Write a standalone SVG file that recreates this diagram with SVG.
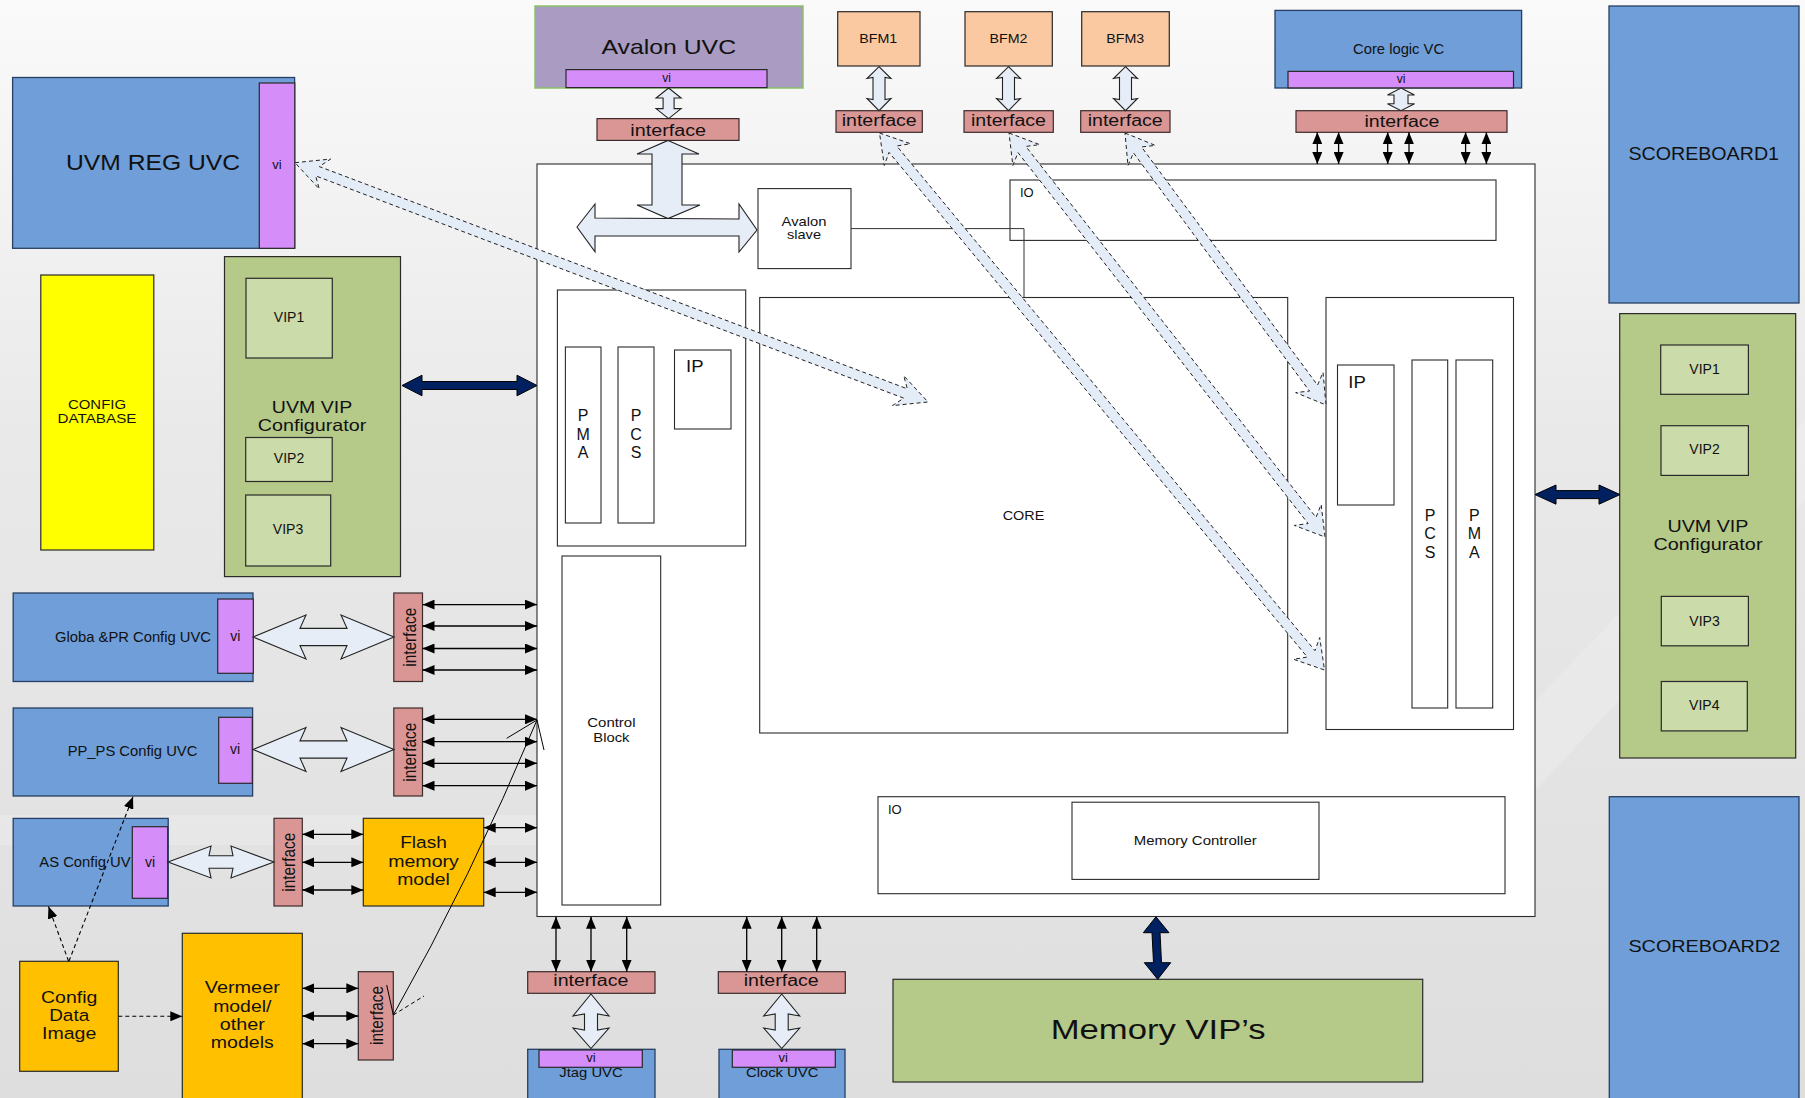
<svg xmlns="http://www.w3.org/2000/svg" width="1805" height="1098" viewBox="0 0 1805 1098">
<defs>
<linearGradient id="bg" x1="0" y1="0" x2="0" y2="1">
<stop offset="0" stop-color="#FAFAFA"/>
<stop offset="0.4" stop-color="#E9E9E9"/>
<stop offset="1" stop-color="#DEDEDE"/>
</linearGradient>
<marker id="ah" viewBox="0 0 12 10" refX="12" refY="5" markerWidth="12" markerHeight="10" markerUnits="userSpaceOnUse" orient="auto-start-reverse"><path d="M0,0 L12,5 L0,10 z" fill="#000"/></marker>
</defs>
<style>
text{font-family:"Liberation Sans",Arial,sans-serif;fill:#111;}
.m{text-anchor:middle}
.blue{fill:#6F9ED8;stroke:#263F63;stroke-width:1.3}
.vi{fill:#D58EF9;stroke:#2a2a2a;stroke-width:1.2}
.if{fill:#DA9694;stroke:#3b2b2b;stroke-width:1.2}
.grn{fill:#B5C989;stroke:#2a2a2a;stroke-width:1.2}
.vip{fill:#CBDBA9;stroke:#2a2a2a;stroke-width:1.2}
.org{fill:#FFC000;stroke:#2a2a2a;stroke-width:1.2}
.bfm{fill:#FAC9A2;stroke:#2a2a2a;stroke-width:1.2}
.wht{fill:#fff;stroke:#2a2a2a;stroke-width:1.1}
.hol{fill:#E6EDF7;stroke:#222;stroke-width:1.1}
.dsh{fill:#E4ECF7;stroke:#222;stroke-width:1;stroke-dasharray:4 3}
.nav{fill:#002060;stroke:#000;stroke-width:1}
.ln{stroke:#000;stroke-width:1.3;fill:none}
.dl{stroke:#000;stroke-width:1.1;fill:none;stroke-dasharray:4 3}
.let{font-size:16.5;text-anchor:middle}
</style>
<rect width="1805" height="1098" fill="url(#bg)"/>
<polygon points="1536,700 1805,420 1805,500 1536,790" fill="#fff" opacity="0.18"/>
<rect x="0" y="815" width="537" height="30" fill="#fff" opacity="0.18"/>

<g id="dut">
<rect class="wht" x="537" y="164" width="998" height="752.5" stroke="#222" stroke-width="1.3"/>
</g>
<g id="io-top"><rect class="wht" x="1010" y="180" width="486" height="60.4"/><text x="1020" y="196.7" font-size="13">IO</text></g>
<g id="core"><rect class="wht" x="759.7" y="297.5" width="528" height="435.5"/><text class="m" x="1023.5" y="519.6" font-size="13.5" textLength="41.6" lengthAdjust="spacingAndGlyphs">CORE</text></g>
<g id="right-block"><rect class="wht" x="1326" y="297.5" width="187.5" height="432"/></g>
<g id="right-ip"><rect class="wht" x="1337.5" y="365" width="56.5" height="140"/><text x="1348.3" y="387.7" font-size="16.5" textLength="17.5" lengthAdjust="spacingAndGlyphs">IP</text></g>
<g id="right-pcs"><rect class="wht" x="1412" y="360" width="35.7" height="348"/><text class="let" x="1430" y="520.5">P</text><text class="let" x="1430" y="539">C</text><text class="let" x="1430" y="557.5">S</text></g>
<g id="right-pma"><rect class="wht" x="1456" y="360" width="36.7" height="348"/><text class="let" x="1474.3" y="520.5">P</text><text class="let" x="1474.3" y="539">M</text><text class="let" x="1474.3" y="557.5">A</text></g>
<g id="left-block"><rect class="wht" x="557.4" y="290" width="188.3" height="256"/></g>
<g id="left-pma"><rect class="wht" x="565.4" y="347" width="35.6" height="176"/><text class="let" x="583.2" y="420.7">P</text><text class="let" x="583.2" y="440">M</text><text class="let" x="583.2" y="457.9">A</text></g>
<g id="left-pcs"><rect class="wht" x="618" y="347" width="36" height="176"/><text class="let" x="636" y="420.7">P</text><text class="let" x="636" y="440">C</text><text class="let" x="636" y="457.9">S</text></g>
<g id="left-ip"><rect class="wht" x="674.5" y="350" width="56.5" height="79"/><text x="686" y="372" font-size="16.5" textLength="17.5" lengthAdjust="spacingAndGlyphs">IP</text></g>
<g id="avalon-slave"><rect class="wht" x="758" y="188.6" width="93" height="80"/><text class="m" x="804" y="225.7" font-size="13" textLength="44.8" lengthAdjust="spacingAndGlyphs">Avalon</text><text class="m" x="804" y="239.3" font-size="13" textLength="34" lengthAdjust="spacingAndGlyphs">slave</text></g>
<g id="control-block"><rect class="wht" x="562" y="556" width="98.7" height="349"/><text class="m" x="611.4" y="727.4" font-size="13" textLength="48.2" lengthAdjust="spacingAndGlyphs">Control</text><text class="m" x="611.4" y="741.8" font-size="13" textLength="36.1" lengthAdjust="spacingAndGlyphs">Block</text></g>
<g id="io-bottom"><rect class="wht" x="878" y="796.7" width="627" height="97"/><text x="888" y="813.7" font-size="13">IO</text></g>
<g id="memory-controller"><rect class="wht" x="1072" y="802.2" width="247" height="77.2"/><text class="m" x="1195.2" y="844.8" font-size="13.5" textLength="123" lengthAdjust="spacingAndGlyphs">Memory Controller</text></g>

<g id="avalon-uvc"><rect x="535" y="6" width="268" height="82" fill="#A99BC1" stroke="#8CC266" stroke-width="1.5"/><text class="m" x="668.8" y="53.6" font-size="21" textLength="134.5" lengthAdjust="spacingAndGlyphs">Avalon UVC</text><rect class="vi" x="566" y="69.6" width="201" height="18"/><text class="m" x="666.5" y="82" font-size="12">vi</text></g>
<g id="avalon-if"><rect class="if" x="597" y="118.6" width="142" height="21.8"/><text class="m" x="668.2" y="135.5" font-size="16" textLength="75.7" lengthAdjust="spacingAndGlyphs">interface</text></g>
<g id="bfm1"><rect class="bfm" x="837.7" y="11.7" width="82.3" height="54.3"/><text class="m" x="878.3" y="43.3" font-size="12.6" textLength="38" lengthAdjust="spacingAndGlyphs">BFM1</text></g>
<g id="bfm2"><rect class="bfm" x="965" y="11.7" width="87.3" height="54.3"/><text class="m" x="1008.5" y="43.3" font-size="12.6" textLength="38" lengthAdjust="spacingAndGlyphs">BFM2</text></g>
<g id="bfm3"><rect class="bfm" x="1081.7" y="11.7" width="87.6" height="54.3"/><text class="m" x="1125.3" y="43.3" font-size="12.6" textLength="38" lengthAdjust="spacingAndGlyphs">BFM3</text></g>
<g id="bfm1-if"><rect class="if" x="836" y="110.7" width="86.3" height="21.6"/><text class="m" x="879.2" y="126" font-size="16" textLength="75" lengthAdjust="spacingAndGlyphs">interface</text></g>
<g id="bfm2-if"><rect class="if" x="964" y="110.7" width="89.3" height="21.6"/><text class="m" x="1008.5" y="126" font-size="16" textLength="75" lengthAdjust="spacingAndGlyphs">interface</text></g>
<g id="bfm3-if"><rect class="if" x="1080.7" y="110.7" width="89.3" height="21.6"/><text class="m" x="1125.2" y="126" font-size="16" textLength="75" lengthAdjust="spacingAndGlyphs">interface</text></g>
<g id="core-logic-vc"><rect class="blue" x="1275" y="10.4" width="246.6" height="77.6"/><text class="m" x="1398.6" y="53.6" font-size="14" textLength="91" lengthAdjust="spacingAndGlyphs">Core logic VC</text><rect class="vi" x="1288" y="71.4" width="225.5" height="16.5"/><text class="m" x="1401" y="83" font-size="12">vi</text></g>
<g id="core-logic-if"><rect class="if" x="1296" y="110.7" width="211" height="21.6"/><text class="m" x="1402" y="126.8" font-size="16" textLength="75" lengthAdjust="spacingAndGlyphs">interface</text></g>
<g id="scoreboard1"><rect class="blue" x="1609" y="6" width="190" height="297"/><text class="m" x="1703.7" y="159.6" font-size="17.5" textLength="150.6" lengthAdjust="spacingAndGlyphs">SCOREBOARD1</text></g>
<g id="vip-config-right"><rect class="grn" x="1619.7" y="313.6" width="176" height="444.4"/>
<rect class="vip" x="1660.7" y="345" width="87.7" height="49.3"/><text class="m" x="1704.5" y="374" font-size="14">VIP1</text>
<rect class="vip" x="1661" y="425.7" width="87.4" height="49.7"/><text class="m" x="1704.5" y="454.3" font-size="14">VIP2</text>
<text class="m" x="1708" y="532" font-size="16.5" textLength="81" lengthAdjust="spacingAndGlyphs">UVM VIP</text><text class="m" x="1708" y="550" font-size="16.5" textLength="109" lengthAdjust="spacingAndGlyphs">Configurator</text>
<rect class="vip" x="1661.3" y="596.4" width="87.1" height="49.4"/><text class="m" x="1704.5" y="625.5" font-size="14">VIP3</text>
<rect class="vip" x="1661.3" y="681.5" width="86" height="49.4"/><text class="m" x="1704.3" y="710.3" font-size="14">VIP4</text></g>
<g id="scoreboard2"><rect class="blue" x="1609.3" y="796.7" width="189.7" height="310"/><text class="m" x="1704.3" y="952.2" font-size="17" textLength="151.8" lengthAdjust="spacingAndGlyphs">SCOREBOARD2</text></g>
<g id="memory-vips"><rect class="grn" x="893" y="979.3" width="529.7" height="102.7"/><text class="m" x="1158.2" y="1039" font-size="27.5" textLength="215" lengthAdjust="spacingAndGlyphs">Memory VIP’s</text></g>

<g id="uvm-reg-uvc"><rect class="blue" x="12.6" y="77.5" width="282" height="170.8"/><text class="m" x="153" y="169.6" font-size="21.5" textLength="174" lengthAdjust="spacingAndGlyphs">UVM REG UVC</text><rect class="vi" x="259.3" y="83" width="35.5" height="165.3"/><text class="m" x="277" y="169" font-size="13">vi</text></g>
<g id="config-database"><rect x="40.8" y="275" width="113" height="275" fill="#FFFF00" stroke="#2a2a2a" stroke-width="1.2"/><text class="m" x="97" y="409.3" font-size="13" textLength="58" lengthAdjust="spacingAndGlyphs">CONFIG</text><text class="m" x="97" y="423.2" font-size="13" textLength="79" lengthAdjust="spacingAndGlyphs">DATABASE</text></g>
<g id="vip-config-left"><rect class="grn" x="224.5" y="256.6" width="176" height="320"/>
<rect class="vip" x="246" y="278.3" width="86.3" height="79.7"/><text class="m" x="289" y="322.3" font-size="14">VIP1</text>
<text class="m" x="312" y="412.5" font-size="16.5" textLength="80.4" lengthAdjust="spacingAndGlyphs">UVM VIP</text><text class="m" x="312" y="431" font-size="16.5" textLength="108.5" lengthAdjust="spacingAndGlyphs">Configurator</text>
<rect class="vip" x="245.7" y="437.5" width="86.5" height="44"/><text class="m" x="289" y="463" font-size="14">VIP2</text>
<rect class="vip" x="245.7" y="495" width="85" height="71"/><text class="m" x="288" y="534.3" font-size="14">VIP3</text></g>
<g id="globa-pr-config-uvc"><rect class="blue" x="13.2" y="593" width="239.8" height="88.5"/><text class="m" x="133" y="641.7" font-size="14" textLength="156" lengthAdjust="spacingAndGlyphs">Globa &amp;PR Config UVC</text><rect class="vi" x="217.7" y="599" width="35.6" height="74.3"/><text class="m" x="235.4" y="640.7" font-size="14">vi</text></g>
<g id="globa-if"><rect class="if" x="393.8" y="593" width="28.7" height="88.5"/><text class="m" transform="translate(416,637.2) rotate(-90)" font-size="19" textLength="59" lengthAdjust="spacingAndGlyphs">interface</text></g>
<g id="pp-ps-config-uvc"><rect class="blue" x="13.2" y="708" width="239.4" height="88"/><text class="m" x="132.5" y="755.7" font-size="14" textLength="129.7" lengthAdjust="spacingAndGlyphs">PP_PS Config UVC</text><rect class="vi" x="218.7" y="717.3" width="33.6" height="66"/><text class="m" x="235" y="754" font-size="14">vi</text></g>
<g id="pp-ps-if"><rect class="if" x="393.8" y="708" width="28.7" height="88"/><text class="m" transform="translate(416,752.2) rotate(-90)" font-size="19" textLength="59" lengthAdjust="spacingAndGlyphs">interface</text></g>
<g id="as-config-uvc"><rect class="blue" x="13.2" y="818.4" width="155" height="87.6"/><text x="39.3" y="866.7" font-size="14" textLength="91.3" lengthAdjust="spacingAndGlyphs">AS Config UV</text><rect class="vi" x="132.3" y="826.7" width="35.4" height="71.6"/><text class="m" x="150" y="866.7" font-size="14">vi</text></g>
<g id="as-if"><rect class="if" x="274" y="818.3" width="28.3" height="87.7"/><text class="m" transform="translate(295,862.2) rotate(-90)" font-size="19" textLength="59" lengthAdjust="spacingAndGlyphs">interface</text></g>
<g id="flash-memory-model"><rect class="org" x="363.3" y="818.3" width="120.4" height="87.7"/><text class="m" x="423.5" y="848.3" font-size="16.3" textLength="46.7" lengthAdjust="spacingAndGlyphs">Flash</text><text class="m" x="423.5" y="867.3" font-size="16.3" textLength="70.7" lengthAdjust="spacingAndGlyphs">memory</text><text class="m" x="423.5" y="885" font-size="16.3" textLength="52.7" lengthAdjust="spacingAndGlyphs">model</text></g>
<g id="config-data-image"><rect class="org" x="19.7" y="961.3" width="98.6" height="110"/><text class="m" x="69.2" y="1002.7" font-size="16.8" textLength="56.3" lengthAdjust="spacingAndGlyphs">Config</text><text class="m" x="69.2" y="1020.9" font-size="16.8" textLength="40" lengthAdjust="spacingAndGlyphs">Data</text><text class="m" x="69.2" y="1039" font-size="16.8" textLength="54.3" lengthAdjust="spacingAndGlyphs">Image</text></g>
<g id="vermeer-model"><rect class="org" x="182.3" y="933.3" width="120" height="175"/><text class="m" x="242.3" y="993.3" font-size="16.3" textLength="75" lengthAdjust="spacingAndGlyphs">Vermeer</text><text class="m" x="242.3" y="1011.7" font-size="16.3" textLength="58.3" lengthAdjust="spacingAndGlyphs">model/</text><text class="m" x="242.3" y="1030" font-size="16.3" textLength="45" lengthAdjust="spacingAndGlyphs">other</text><text class="m" x="242.3" y="1047.7" font-size="16.3" textLength="63" lengthAdjust="spacingAndGlyphs">models</text></g>
<g id="vermeer-if"><rect class="if" x="358.3" y="971.7" width="35" height="88.3"/><text class="m" transform="translate(383.3,1015.5) rotate(-90)" font-size="19" textLength="59" lengthAdjust="spacingAndGlyphs">interface</text></g>
<g id="jtag-if"><rect class="if" x="527.7" y="971.7" width="127.3" height="21.6"/><text class="m" x="590.8" y="986" font-size="16" textLength="75" lengthAdjust="spacingAndGlyphs">interface</text></g>
<g id="clock-if"><rect class="if" x="718.3" y="971.7" width="127" height="21.6"/><text class="m" x="781.2" y="986" font-size="16" textLength="75" lengthAdjust="spacingAndGlyphs">interface</text></g>
<g id="jtag-uvc"><rect class="blue" x="527.7" y="1049.3" width="127.3" height="60"/><rect class="vi" x="539" y="1050" width="103.3" height="17.3"/><text class="m" x="591" y="1061.7" font-size="13">vi</text><text class="m" x="591" y="1076.7" font-size="13" textLength="63.3" lengthAdjust="spacingAndGlyphs">Jtag UVC</text></g>
<g id="clock-uvc"><rect class="blue" x="719" y="1049.3" width="126" height="60"/><rect class="vi" x="732.3" y="1050" width="103" height="17.3"/><text class="m" x="783.3" y="1061.7" font-size="13">vi</text><text class="m" x="782.2" y="1076.7" font-size="13" textLength="72.3" lengthAdjust="spacingAndGlyphs">Clock UVC</text></g>

<g id="connectors">
<polyline points="851,228.6 1024,228.6 1024,297.5" fill="none" stroke="#333" stroke-width="1"/>
<polygon class="hol" points="668,140.4 699,154 682,154 682,205 700,205 668,218.6 637,205 652,205 652,154 637,154"/>
<polygon class="hol" points="577,227 595,204 595,218 739,219 739,204 757,230 739,252 739,236 595,236 595,251.8"/>
<polygon class="hol" points="668.6,88 681.1,98 674.1,98 674.1,108.6 681.1,108.6 668.6,118.6 656.1,108.6 663.1,108.6 663.1,98 656.1,98"/>
<polygon class="hol" points="1401,88 1414.5,95 1408,95 1408,103.7 1414.5,103.7 1401,110.7 1387.5,103.7 1394,103.7 1394,95 1387.5,95"/>
<polygon class="hol" points="879,66.7 891,78.5 885,77.5 885,99.5 891,98.5 879,110.7 867,98.5 873,99.5 873,77.5 867,78.5"/>
<polygon class="hol" points="1008.5,66.7 1020.5,78.5 1014.5,77.5 1014.5,99.5 1020.5,98.5 1008.5,110.7 996.5,98.5 1002.5,99.5 1002.5,77.5 996.5,78.5"/>
<polygon class="hol" points="1125.5,66.7 1137.5,78.5 1131.5,77.5 1131.5,99.5 1137.5,98.5 1125.5,110.7 1113.5,98.5 1119.5,99.5 1119.5,77.5 1113.5,78.5"/>
<polygon class="hol" points="253,637 306,615 300,628.4 347,628.4 341,615 394,637 341,659 347,645.6 300,645.6 306,659"/>
<polygon class="hol" points="253,749.5 306,727.5 300,740.9 347,740.9 341,727.5 394,749.5 341,771.5 347,758.1 300,758.1 306,771.5"/>
<polygon class="hol" points="168,862 211,846 209,855.7 233,855.7 231,846 274,862 231,878 233,868.3 209,868.3 211,878"/>
<polygon class="hol" points="591,994 609,1016 597.5,1014 597.5,1030 609,1028 591,1048.5 573,1028 584.5,1030 584.5,1014 573,1016"/>
<polygon class="hol" points="781.7,994 799.7,1016 788.2,1014 788.2,1030 799.7,1028 781.7,1048.5 763.7,1028 775.2,1030 775.2,1014 763.7,1016"/>
<polygon class="dsh" points="295,162.7 330.6,159.07 319.21,166.52 907.33,388.82 903.74,375.71 928,402 892.4,405.63 903.79,398.18 315.67,175.88 319.26,188.99"/>
<polygon class="dsh" points="879.5,133 910.46,143.71 896.75,145.98 1314.95,650.64 1319.72,637.59 1324.5,670 1293.54,659.29 1307.25,657.02 889.05,152.36 884.28,165.41"/>
<polygon class="dsh" points="1009,133 1039.64,144.59 1025.88,146.46 1316,517.38 1321.14,504.47 1325,537 1294.36,525.41 1308.12,523.54 1018,152.62 1012.86,165.53"/>
<polygon class="dsh" points="1125,133 1155.31,145.42 1141.5,146.92 1317.54,385.14 1323.03,372.38 1326,405 1295.69,392.58 1309.5,391.08 1133.46,152.86 1127.97,165.62"/>
<polygon class="nav" points="402,385.5 422,375.2 422,381.5 517,381.5 517,375.2 537,385.5 517,395.8 517,389.5 422,389.5 422,395.8"/>
<polygon class="nav" points="1535,494.6 1556,485 1556,490.6 1599,490.6 1599,485 1620,494.6 1599,504.2 1599,498.6 1556,498.6 1556,504.2"/>
<polygon class="nav" points="1156,916.8 1169,932.7 1160,932.7 1161.5,962.7 1170.7,962.7 1157.7,979.3 1144.3,962.7 1153.5,962.7 1152,932.7 1143.3,932.7"/>
<g class="ln" marker-start="url(#ah)" marker-end="url(#ah)">
<line x1="1317.3" y1="132.3" x2="1317.3" y2="164"/><line x1="1338.6" y1="132.3" x2="1338.6" y2="164"/>
<line x1="1387.7" y1="132.3" x2="1387.7" y2="164"/><line x1="1409" y1="132.3" x2="1409" y2="164"/>
<line x1="1465.6" y1="132.3" x2="1465.6" y2="164"/><line x1="1486.4" y1="132.3" x2="1486.4" y2="164"/>
<line x1="422.5" y1="604.6" x2="537" y2="604.6"/><line x1="422.5" y1="626" x2="537" y2="626"/>
<line x1="422.5" y1="648.5" x2="537" y2="648.5"/><line x1="422.5" y1="670" x2="537" y2="670"/>
<line x1="422.5" y1="719.3" x2="537" y2="719.3"/><line x1="422.5" y1="741.7" x2="537" y2="741.7"/>
<line x1="422.5" y1="763.3" x2="537" y2="763.3"/><line x1="422.5" y1="785.7" x2="537" y2="785.7"/>
<line x1="302.3" y1="834.3" x2="363.3" y2="834.3"/><line x1="302.3" y1="862.3" x2="363.3" y2="862.3"/><line x1="302.3" y1="890" x2="363.3" y2="890"/>
<line x1="483.7" y1="827.7" x2="537" y2="827.7"/><line x1="483.7" y1="862.3" x2="537" y2="862.3"/><line x1="483.7" y1="892.3" x2="537" y2="892.3"/>
<line x1="302.3" y1="988.3" x2="358.3" y2="988.3"/><line x1="302.3" y1="1016" x2="358.3" y2="1016"/><line x1="302.3" y1="1043.7" x2="358.3" y2="1043.7"/>
<line x1="556" y1="916.7" x2="556" y2="971.7"/><line x1="591" y1="916.7" x2="591" y2="971.7"/><line x1="626.7" y1="916.7" x2="626.7" y2="971.7"/>
<line x1="746.7" y1="916.7" x2="746.7" y2="971.7"/><line x1="781.7" y1="916.7" x2="781.7" y2="971.7"/><line x1="816.7" y1="916.7" x2="816.7" y2="971.7"/>
</g>
<line class="dl" x1="118.3" y1="1016.3" x2="182.3" y2="1016.3" marker-end="url(#ah)"/>
<line class="dl" x1="68.5" y1="961" x2="48.5" y2="906.5" marker-end="url(#ah)"/>
<line class="dl" x1="69" y1="961" x2="133" y2="796.7" marker-end="url(#ah)"/>
<path d="M393.3,1015 Q470,880 537,720" fill="none" stroke="#000" stroke-width="1"/>
<line x1="537" y1="720" x2="506.7" y2="738.3" stroke="#000" stroke-width="1"/>
<line x1="537" y1="720" x2="544" y2="750" stroke="#000" stroke-width="1"/>
<line x1="393.3" y1="1015" x2="386.7" y2="985" stroke="#000" stroke-width="1"/>
<line x1="393.3" y1="1015" x2="424" y2="996" stroke="#000" stroke-width="1" stroke-dasharray="4 3"/>
</g>
</svg>
